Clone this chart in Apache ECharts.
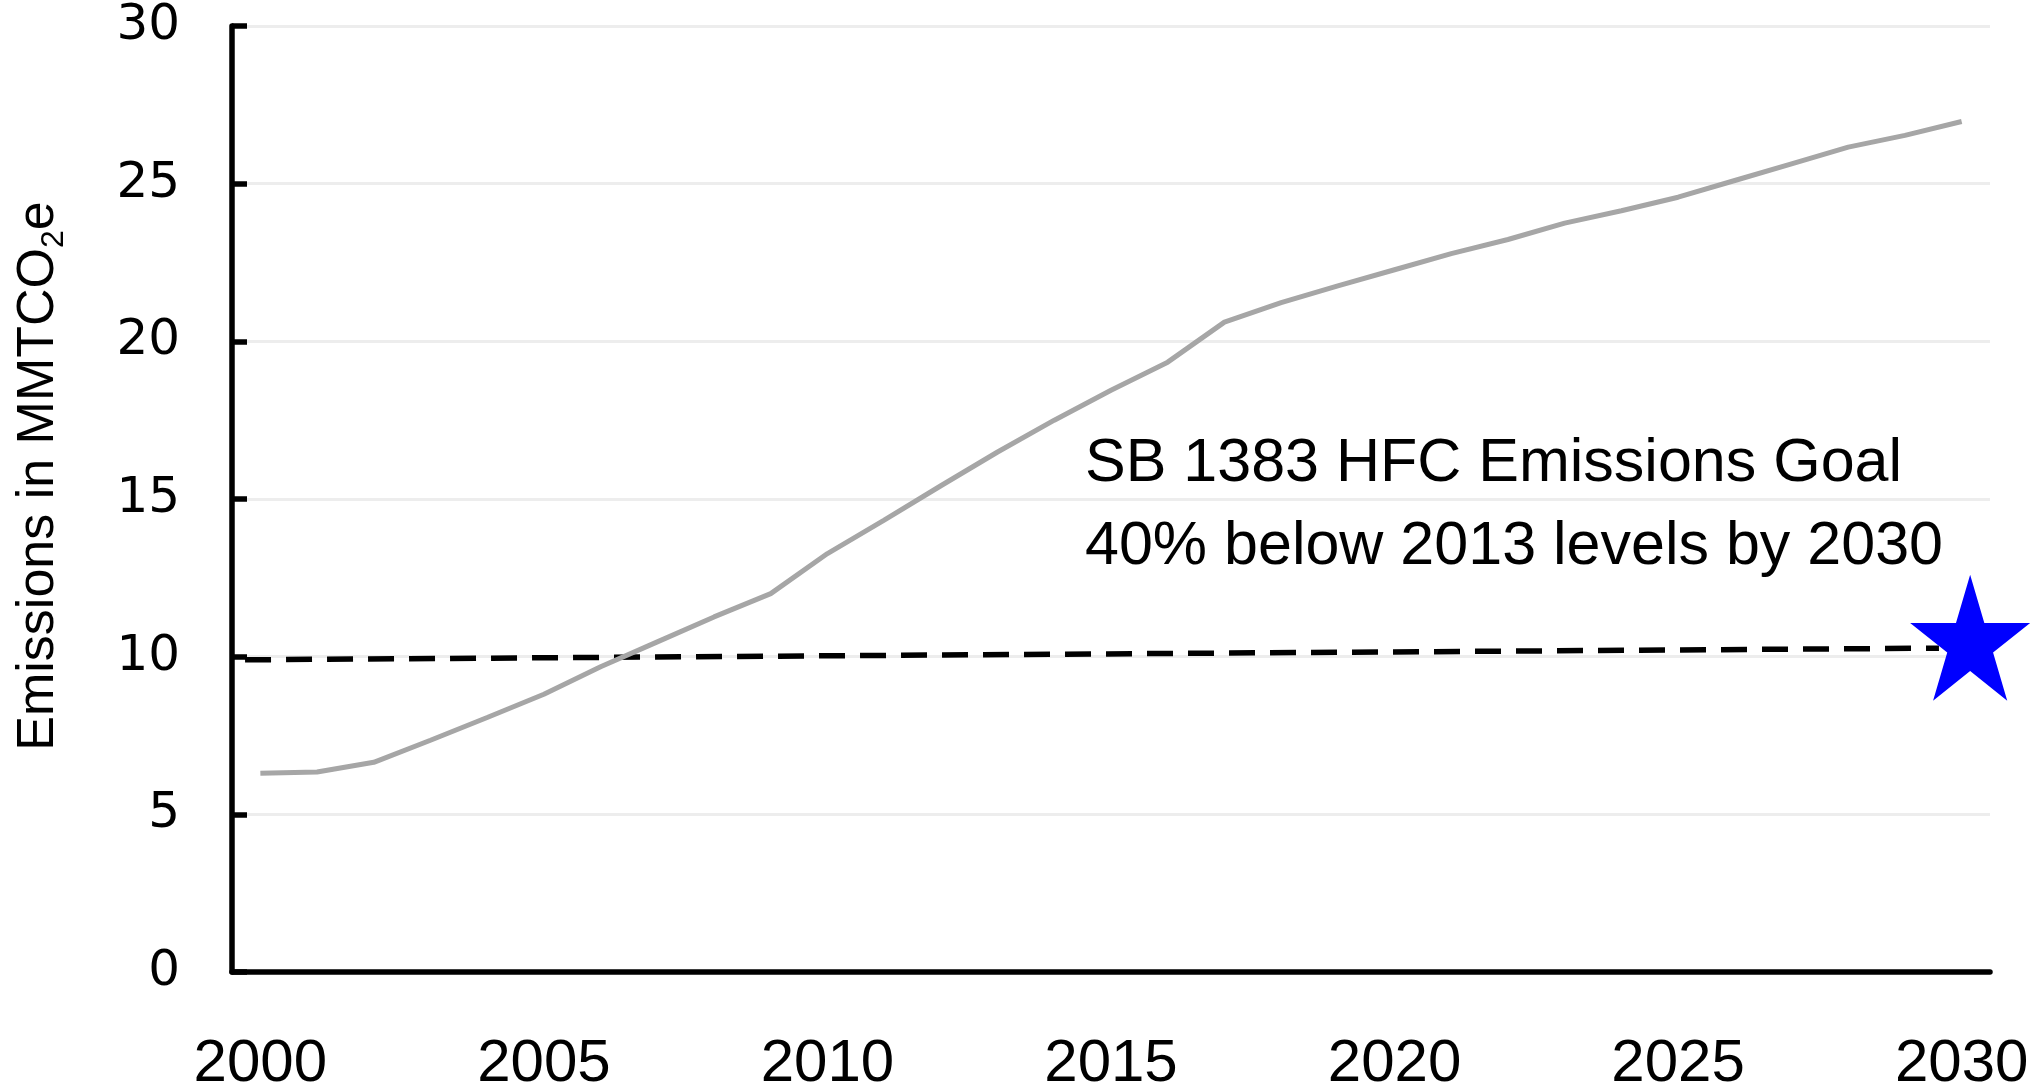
<!DOCTYPE html>
<html>
<head>
<meta charset="utf-8">
<style>
  html, body { margin: 0; padding: 0; background: #ffffff; }
  #chart { width: 2038px; height: 1089px; }
</style>
<script src="https://cdn.jsdelivr.net/npm/echarts@6/dist/echarts.min.js"></script>
</head>
<body>
<div id="chart"></div>
<script>
// ---- data ----
const years = [2000, 2001, 2002, 2003, 2004, 2005, 2006, 2007, 2008, 2009,
               2010, 2011, 2012, 2013, 2014, 2015, 2016, 2017, 2018, 2019,
               2020, 2021, 2022, 2023, 2024, 2025, 2026, 2027, 2028, 2029, 2030];
const emissions = [6.30, 6.34, 6.65, 7.35, 8.07, 8.81, 9.68, 10.47, 11.26, 12.00,
                   13.27, 14.33, 15.42, 16.49, 17.50, 18.45, 19.34, 20.61, 21.23, 21.76,
                   22.27, 22.78, 23.23, 23.75, 24.14, 24.57, 25.10, 25.63, 26.16, 26.53, 26.97];
const goalLineX = [1999.73, 2029.6];
const goalLineY = [9.90, 10.27];
const goalStarX = [2030.15];
const goalStarY = [10.60];
const xTickLabels = [2000, 2005, 2010, 2015, 2020, 2025, 2030];
const yTickValues = [0, 5, 10, 15, 20, 25, 30];
const annotationLines = ['SB 1383 HFC Emissions Goal', '40% below 2013 levels by 2030'];
const yTitleParts = ['Emissions in MMTCO', '2', 'e'];

const starPath = 'path://M50,0 L61.23,34.55 L97.55,34.55 L68.16,55.9 L79.39,90.45 L50,69.1 L20.61,90.45 L31.84,55.9 L2.45,34.55 L38.77,34.55 Z';

const chart = echarts.init(document.getElementById('chart'), null, { renderer: 'canvas' });

const option = {
  animation: false,
  backgroundColor: '#ffffff',
  grid: { left: 232, right: 48, top: 26, bottom: 117, containLabel: false, outerBoundsMode: 'none' },
  xAxis: {
    type: 'value',
    min: 1999.5,
    max: 2030.5,
    axisLine: { show: true, onZero: false, lineStyle: { color: '#000000', width: 5.5 } },
    axisTick: { show: false },
    splitLine: { show: false },
    axisLabel: {
      customValues: xTickLabels,
      formatter: v => String(v),
      color: '#000000',
      fontFamily: '"Liberation Sans Narrow", "Liberation Sans", sans-serif',
      fontSize: 60,
      margin: 62
    }
  },
  yAxis: {
    type: 'value',
    min: yTickValues[0],
    max: yTickValues[yTickValues.length - 1],
    interval: 5,
    axisLine: { show: true, lineStyle: { color: '#000000', width: 5.5 } },
    axisTick: { show: true, inside: true, length: 15, lineStyle: { color: '#000000', width: 5.5 } },
    splitLine: { show: true, lineStyle: { color: '#EDEDED', width: 3 } },
    axisLabel: {
      color: '#000000',
      fontFamily: '"DejaVu Sans", sans-serif',
      fontSize: 50,
      margin: 52
    }
  },
  series: [
    {
      type: 'line',
      name: 'Goal',
      data: goalLineX.map((x, i) => [x, goalLineY[i]]),
      showSymbol: false,
      lineStyle: { color: '#000000', width: 5.5, type: [26, 15] },
      z: 2
    },
    {
      type: 'line',
      name: 'HFC Emissions',
      data: years.map((y, i) => [y, emissions[i]]),
      showSymbol: false,
      lineStyle: { color: '#A6A6A6', width: 5 },
      z: 3
    },
    {
      type: 'scatter',
      name: 'Goal star',
      data: goalStarX.map((x, i) => [x, goalStarY[i]]),
      symbol: starPath,
      symbolSize: [120, 126],
      itemStyle: { color: '#0000FF', opacity: 1 },
      z: 4
    }
  ],
  graphic: [
    {
      type: 'text',
      x: 1085,
      y: 423,
      style: {
        text: annotationLines.join('\n'),
        font: '61px "Liberation Sans", sans-serif',
        lineHeight: 83,
        fill: '#000000'
      },
      z: 10
    },
    {
      type: 'text',
      x: 39,
      y: 476,
      rotation: Math.PI / 2,
      style: {
        text: '{a|' + yTitleParts[0] + '}{s|' + yTitleParts[1] + '}{a|' + yTitleParts[2] + '}',
        align: 'center',
        verticalAlign: 'middle',
        rich: {
          a: { fontFamily: '"Liberation Sans", sans-serif', fontSize: 52, lineHeight: 62, fill: '#000000', verticalAlign: 'middle' },
          s: { fontFamily: '"Liberation Sans", sans-serif', fontSize: 32, lineHeight: 62, fill: '#000000', verticalAlign: 'bottom' }
        }
      },
      z: 10
    }
  ]
};

chart.setOption(option);
</script>
</body>
</html>
